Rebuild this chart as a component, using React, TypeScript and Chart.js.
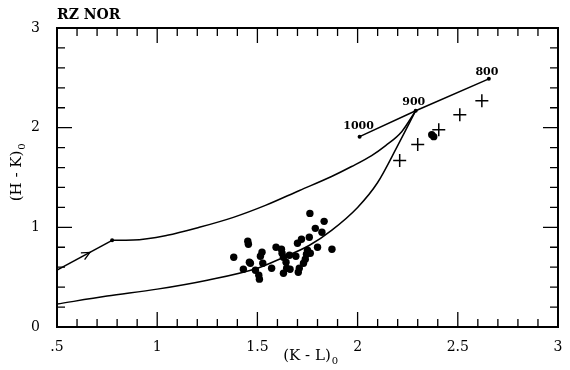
import { useEffect, useRef } from "react";
import { Chart, registerables } from "chart.js";
Chart.register(...registerables);

const titleText = "RZ NOR";
const xTitle = "(K - L)";
const yTitle = "(H - K)";
const xTickValues = [0.5, 1, 1.5, 2, 2.5, 3];
const yTickValues = [0, 1, 2, 3];

const arrowSegX = [0.5, 0.775];
const arrowSegY = [0.57, 0.87];
const upperX = [0.775, 0.88, 1.05, 1.21, 1.38, 1.54, 1.71, 1.87, 1.97, 2.07, 2.14, 2.22, 2.29];
const upperY = [0.87, 0.872, 0.92, 1.0, 1.1, 1.22, 1.37, 1.51, 1.61, 1.72, 1.82, 1.96, 2.17];
const lowerX = [0.5, 0.75, 1.0, 1.25, 1.5, 1.62, 1.76, 1.87, 2.0, 2.1, 2.2, 2.29];
const lowerY = [0.23, 0.31, 0.38, 0.47, 0.59, 0.69, 0.82, 0.97, 1.2, 1.45, 1.82, 2.17];
const tempX = [2.01, 2.29, 2.655];
const tempY = [1.91, 2.17, 2.49];
const tempLabels = ["1000", "900", "800"];
const crossX = [2.21, 2.3, 2.405, 2.51, 2.62];
const crossY = [1.67, 1.83, 1.98, 2.13, 2.27];
const dotX = [1.382, 1.43, 1.452, 1.455, 1.46, 1.465, 1.49, 1.507, 1.51, 1.515, 1.523, 1.527, 1.571, 1.593, 1.62, 1.623, 1.63, 1.63, 1.643, 1.646, 1.66, 1.663, 1.692, 1.7, 1.704, 1.709, 1.72, 1.73, 1.739, 1.745, 1.75, 1.759, 1.762, 1.764, 1.789, 1.8, 1.822, 1.833, 1.872, 2.37, 2.38];
const dotY = [0.7, 0.58, 0.86, 0.83, 0.65, 0.64, 0.57, 0.52, 0.48, 0.71, 0.75, 0.64, 0.59, 0.8, 0.78, 0.74, 0.7, 0.54, 0.65, 0.59, 0.72, 0.58, 0.71, 0.84, 0.55, 0.59, 0.88, 0.64, 0.68, 0.73, 0.77, 0.9, 1.14, 0.74, 0.99, 0.8, 0.95, 1.06, 0.78, 1.93, 1.91];
const arrowAtX = 0.664;

const pts = (xs: number[], ys: number[]) => xs.map((x, i) => ({ x, y: ys[i] }));

const FONT = "'DejaVu Serif', serif";

const decor = {
  id: "decor",
  afterDraw(chart: any) {
    const { ctx, chartArea: a, scales } = chart;
    const x = scales.x, y = scales.y;
    ctx.save();
    ctx.strokeStyle = "#000";
    ctx.fillStyle = "#000";
    ctx.lineWidth = 2;
    ctx.strokeRect(a.left, a.top, a.right - a.left, a.bottom - a.top);
    ctx.lineWidth = 1.3;
    ctx.beginPath();
    for (let i = 5; i <= 30; i++) {
      const px = x.getPixelForValue(i / 10);
      const len = i % 5 === 0 ? 15 : 8;
      ctx.moveTo(px, a.bottom); ctx.lineTo(px, a.bottom - len);
      ctx.moveTo(px, a.top); ctx.lineTo(px, a.top + len);
    }
    for (let i = 0; i <= 15; i++) {
      const py = y.getPixelForValue(i / 5);
      const len = i % 5 === 0 ? 15 : 8;
      ctx.moveTo(a.left, py); ctx.lineTo(a.left + len, py);
      ctx.moveTo(a.right, py); ctx.lineTo(a.right - len, py);
    }
    ctx.stroke();

    // arrow head on first segment
    const x0 = x.getPixelForValue(arrowSegX[0]), y0 = y.getPixelForValue(arrowSegY[0]);
    const x1 = x.getPixelForValue(arrowSegX[1]), y1 = y.getPixelForValue(arrowSegY[1]);
    const ang = Math.atan2(y1 - y0, x1 - x0);
    const t = (arrowAtX - arrowSegX[0]) / (arrowSegX[1] - arrowSegX[0]);
    const ax = x0 + (x1 - x0) * t, ay = y0 + (y1 - y0) * t;
    ctx.lineWidth = 1.3;
    ctx.beginPath();
    ctx.moveTo(ax - 9 * Math.cos(ang - 0.45), ay - 9 * Math.sin(ang - 0.45));
    ctx.lineTo(ax, ay);
    ctx.lineTo(ax - 9 * Math.cos(ang + 0.45), ay - 9 * Math.sin(ang + 0.45));
    ctx.stroke();

    // temperature labels
    ctx.font = `bold 11px ${FONT}`;
    ctx.textAlign = "center";
    ctx.textBaseline = "middle";
    const offs = [[-1, -10], [-2, -9], [-2, -7]];
    tempLabels.forEach((s, i) => {
      ctx.fillText(s, x.getPixelForValue(tempX[i]) + offs[i][0], y.getPixelForValue(tempY[i]) + offs[i][1]);
    });

    // title
    ctx.font = `bold 14px ${FONT}`;
    ctx.textAlign = "left";
    ctx.fillText(titleText, a.left, 15);

    // x title
    ctx.font = `15px ${FONT}`;
    const xc = 307;
    const w = ctx.measureText(xTitle).width;
    ctx.textAlign = "left";
    ctx.fillText(xTitle, xc - w / 2, 356);
    ctx.font = `10px ${FONT}`;
    ctx.fillText("0", xc + w / 2 + 1, 361);

    // y title
    ctx.save();
    ctx.translate(17, 176);
    ctx.rotate(-Math.PI / 2);
    ctx.font = `15px ${FONT}`;
    const wy = ctx.measureText(yTitle).width;
    ctx.fillText(yTitle, -wy / 2, 0);
    ctx.font = `10px ${FONT}`;
    ctx.fillText("0", wy / 2 + 1, 5);
    ctx.restore();

    ctx.restore();
  },
};

export default function App() {
  const ref = useRef<HTMLCanvasElement>(null);
  useEffect(() => {
    const chart = new Chart(ref.current!, {
      type: "scatter",
      data: {
        datasets: [
          { type: "line", data: pts(arrowSegX, arrowSegY), borderColor: "#000", borderWidth: 1.5, pointRadius: [0, 2], pointBackgroundColor: "#000", pointBorderWidth: 0, tension: 0 } as any,
          { type: "line", data: pts(upperX, upperY), borderColor: "#000", borderWidth: 1.5, pointRadius: 0, cubicInterpolationMode: "monotone" } as any,
          { type: "line", data: pts(lowerX, lowerY), borderColor: "#000", borderWidth: 1.5, pointRadius: 0, cubicInterpolationMode: "monotone" } as any,
          { type: "line", data: pts(tempX, tempY), borderColor: "#000", borderWidth: 1.5, pointRadius: 2, pointBackgroundColor: "#000", pointBorderWidth: 0, tension: 0 } as any,
          { data: pts(dotX, dotY), backgroundColor: "#000", borderWidth: 0, pointRadius: 3.7 },
          { data: pts(crossX, crossY), pointStyle: "cross", pointRadius: 6.5, borderColor: "#000", borderWidth: 1.5 },
        ],
      },
      options: {
        responsive: false,
        animation: false,
        layout: { padding: { left: 0, right: 12, top: 28, bottom: 0 } },
        plugins: { legend: { display: false }, tooltip: { enabled: false } },
        scales: {
          x: {
            type: "linear", min: 0.5, max: 3,
            afterFit: (s: any) => { s.height = 43; },
            afterBuildTicks: (s: any) => { s.ticks = xTickValues.map((v) => ({ value: v })); },
            grid: { display: false },
            border: { display: false },
            ticks: { color: "#000", font: { family: FONT, size: 14 }, padding: 4, maxRotation: 0, callback: (v: any) => (v === 0.5 ? ".5" : String(v)) },
          },
          y: {
            type: "linear", min: 0, max: 3,
            afterFit: (s: any) => { s.width = 57; },
            afterBuildTicks: (s: any) => { s.ticks = yTickValues.map((v) => ({ value: v })); },
            grid: { display: false },
            border: { display: false },
            ticks: { color: "#000", font: { family: FONT, size: 14 }, padding: 9 },
          },
        },
      },
      plugins: [decor],
    });
    return () => chart.destroy();
  }, []);
  return (
    <div style={{ position: "fixed", left: 0, top: 0, width: 570, height: 370, background: "#fff" }}>
      <canvas ref={ref} width={570} height={370} />
    </div>
  );
}
